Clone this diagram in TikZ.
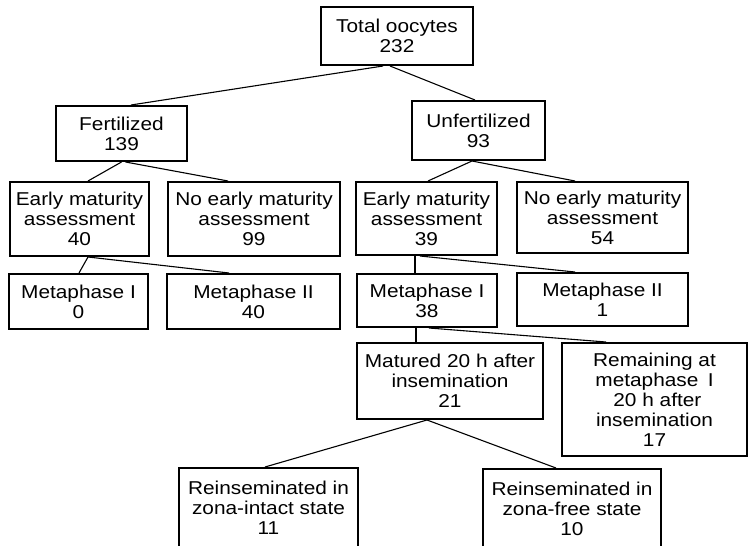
\documentclass[tikz,border=0pt]{standalone}
\usepackage{fontspec}
\setmainfont[FakeStretch=1.12]{Liberation Sans}
\begin{document}
\begin{tikzpicture}[x=1pt,y=-1pt,
  box/.style={draw=black,line width=2pt,rectangle,inner sep=0pt,align=center,
    font=\fontsize{18.6}{20}\selectfont},
  link/.style={draw=black,line width=1.1pt}]
\useasboundingbox (0,0) rectangle (748,546);
\clip (0,0) rectangle (748,546);
\node[box,minimum width=152pt,minimum height=58pt] (total) at (397,36) {Total oocytes\\232};
\node[box,minimum width=131pt,minimum height=55pt] (fert) at (121.5,133.5) {Fertilized\\139};
\node[box,minimum width=133pt,minimum height=59pt] (unfert) at (478.5,130.5) {Unfertilized\\93};
\node[box,minimum width=139pt,minimum height=74pt] (earlyF) at (79.5,219) {Early maturity\\assessment\\40};
\node[box,minimum width=172pt,minimum height=74pt] (noearlyF) at (254,219) {No early maturity\\assessment\\99};
\node[box,minimum width=141pt,minimum height=73pt] (earlyU) at (426.5,218.5) {Early maturity\\assessment\\39};
\node[box,minimum width=171pt,minimum height=71pt] (noearlyU) at (602.5,217.5) {No early maturity\\assessment\\54};
\node[box,minimum width=139pt,minimum height=55pt] (met1F) at (78.5,301.5) {Metaphase I\\0};
\node[box,minimum width=173pt,minimum height=55pt] (met2F) at (253.5,301.5) {Metaphase II\\40};
\node[box,minimum width=140pt,minimum height=53pt] (met1U) at (427,300.5) {Metaphase I\\38};
\node[box,minimum width=171pt,minimum height=53pt] (met2U) at (602.5,299.5) {Metaphase II\\1};
\node[box,minimum width=186pt,minimum height=76pt] (matured) at (450,381) {Matured 20 h after\\insemination\\21};
\node[box,minimum width=185pt,minimum height=113pt] (remaining) at (654.5,399.5) {Remaining at\\metaphase\enspace I\\\ 20 h after\\insemination\\17};
\node[box,minimum width=179pt,minimum height=80pt] (reinsI) at (268.5,508) {Reinseminated in\\zona-intact state\\11};
\node[box,minimum width=178pt,minimum height=79pt] (reinsF) at (572,508.5) {Reinseminated in\\zona-free state\\10};
% connectors
\draw[link] ([xshift=-14pt]total.south) -- ([xshift=9.5pt]fert.north);
\draw[link] ([xshift=-7pt]total.south) -- ([xshift=-3.5pt]unfert.north);
\draw[link] ([xshift=0pt]fert.south) -- ([xshift=8.5pt]earlyF.north);
\draw[link] ([xshift=4pt]fert.south) -- ([xshift=-26pt]noearlyF.north);
\draw[link] ([xshift=-6.5pt]unfert.south) -- ([xshift=1.5pt]earlyU.north);
\draw[link] ([xshift=-6.5pt]unfert.south) -- ([xshift=-27.5pt]noearlyU.north);
\draw[link] ([xshift=8.5pt]earlyF.south) -- ([xshift=0.5pt]met1F.north);
\draw[link] ([xshift=8.5pt]earlyF.south) -- ([xshift=-24.5pt]met2F.north);
\draw[link] ([xshift=-11.5pt]earlyU.south) -- ([xshift=-12pt]met1U.north);
\draw[link] ([xshift=-6.5pt]earlyU.south) -- ([xshift=-27.5pt]met2U.north);
\draw[link] ([xshift=-11pt]met1U.south) -- ([xshift=-34pt]matured.north);
\draw[link] ([xshift=2pt]met1U.south) -- ([xshift=-48.5pt]remaining.north);
\draw[link] ([xshift=-23pt]matured.south) -- ([xshift=-3.5pt]reinsI.north);
\draw[link] ([xshift=-23pt]matured.south) -- ([xshift=-16pt]reinsF.north);
\end{tikzpicture}
\end{document}
